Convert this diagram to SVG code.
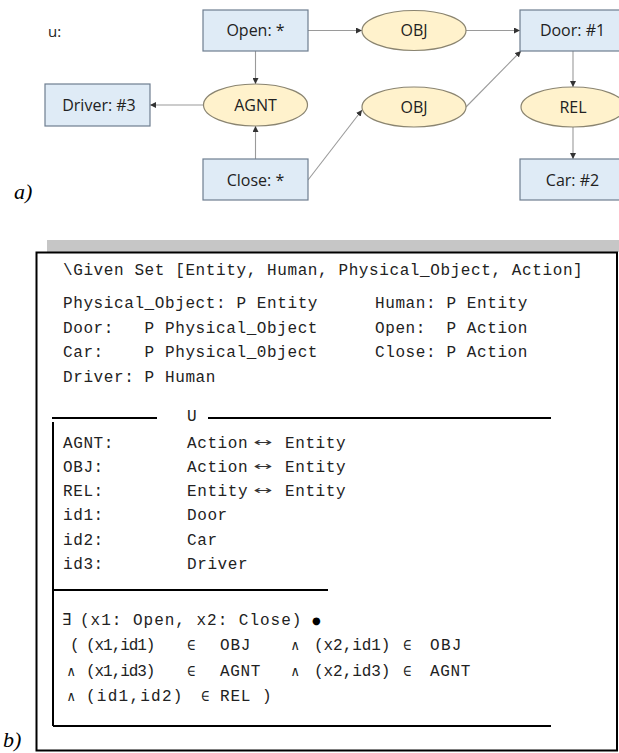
<svg xmlns="http://www.w3.org/2000/svg" width="619" height="753" viewBox="0 0 619 753">
<style>
.box{fill:#dfebf6;stroke:#6e7e90;stroke-width:1.2}
.rel{fill:#fff2cc;stroke:#8a8470;stroke-width:1.2}
.lbl{font-family:"Open Sans","Liberation Sans",sans-serif;font-size:16px;fill:#222;text-anchor:middle}
.conn{stroke:#9a9a9a;stroke-width:1.1;fill:none;marker-end:url(#ah)}
.mono{font-family:"Liberation Mono","DejaVu Sans Mono",monospace;font-size:16px;letter-spacing:0.6px;fill:#222;white-space:pre}
.sym{font-family:"DejaVu Sans Mono","Liberation Mono",monospace;font-size:14px;fill:#222}
.arr{font-family:"DejaVu Sans",sans-serif;font-size:12px;fill:#333}
.rule{stroke:#000;stroke-width:2;fill:none}
.cap{font-family:"Liberation Serif",serif;font-style:italic;font-size:22px;fill:#000}
</style>
<defs>
<marker id="ah" markerUnits="userSpaceOnUse" markerWidth="7" markerHeight="6" refX="6" refY="3" orient="auto">
<path d="M0,0 L6,3 L0,6 Z" fill="#333"/>
</marker>
</defs>

<text x="48" y="37" class="lbl" style="text-anchor:start;font-size:15px">u:</text>

<g id="connectors">
<path class="conn" d="M308,30.5 L362,30.5"/>
<path class="conn" d="M466,30.5 L520,30.5"/>
<path class="conn" d="M255.5,51 L255.5,84"/>
<path class="conn" d="M255.5,159 L255.5,126"/>
<path class="conn" d="M203.5,105 L150,105"/>
<path class="conn" d="M308,180 L362,110"/>
<path class="conn" d="M466,107 L521,51"/>
<path class="conn" d="M573,51 L573,87"/>
<path class="conn" d="M573,127 L573,159"/>
</g>

<g id="open"><rect class="box" x="203" y="10" width="105" height="41"/><text class="lbl" x="255.5" y="36">Open: *</text></g>
<g id="obj1"><ellipse class="rel" cx="414" cy="30.5" rx="52" ry="20"/><text class="lbl" x="414" y="36">OBJ</text></g>
<g id="door"><rect class="box" x="520" y="10" width="105" height="41"/><text class="lbl" x="572.5" y="36">Door: #1</text></g>
<g id="driver"><rect class="box" x="45" y="84" width="105" height="42"/><text class="lbl" x="99" y="111">Driver: #3</text></g>
<g id="agnt"><ellipse class="rel" cx="255.5" cy="105" rx="52" ry="21"/><text class="lbl" x="255.5" y="111">AGNT</text></g>
<g id="obj2"><ellipse class="rel" cx="414" cy="107" rx="52" ry="20"/><text class="lbl" x="414" y="113">OBJ</text></g>
<g id="rel"><ellipse class="rel" cx="573" cy="107" rx="52" ry="20"/><text class="lbl" x="573" y="113">REL</text></g>
<g id="close"><rect class="box" x="203" y="159" width="105" height="41"/><text class="lbl" x="255.5" y="186">Close: *</text></g>
<g id="car"><rect class="box" x="520" y="159" width="105" height="41"/><text class="lbl" x="572.5" y="186">Car: #2</text></g>

<text class="cap" x="14" y="199">a)</text>

<g id="schema">
<rect x="47" y="240" width="580" height="12" fill="#c6c6c6"/>
<rect x="36.5" y="252.5" width="580.5" height="498" fill="#fff" stroke="#000" stroke-width="2"/>
<text class="mono" x="63" y="275">\Given Set [Entity, Human, Physical_Object, Action]</text>
<text class="mono" x="63" y="308">Physical_Object: P Entity</text>
<text class="mono" x="63" y="333">Door:   P Physical_Object</text>
<text class="mono" x="63" y="357">Car:    P Physical_0bject</text>
<text class="mono" x="63" y="382">Driver: P Human</text>
<text class="mono" x="375" y="308">Human: P Entity</text>
<text class="mono" x="375" y="333">Open:  P Action</text>
<text class="mono" x="375" y="357">Close: P Action</text>

<path class="rule" d="M52,418 H157 M208,418 H551 M53,422 V726 M53,590 H328 M53,726 H551"/>
<text class="mono" x="187" y="421">U</text>

<text class="mono" x="63" y="448">AGNT:</text>
<text class="mono" x="187" y="448">Action</text><text class="arr" x="253" y="446" textLength="19" lengthAdjust="spacingAndGlyphs">↔</text><text class="mono" x="285" y="448">Entity</text>
<text class="mono" x="63" y="472">OBJ:</text>
<text class="mono" x="187" y="472">Action</text><text class="arr" x="253" y="470" textLength="19" lengthAdjust="spacingAndGlyphs">↔</text><text class="mono" x="285" y="472">Entity</text>
<text class="mono" x="63" y="496">REL:</text>
<text class="mono" x="187" y="496">Entity</text><text class="arr" x="253" y="494" textLength="19" lengthAdjust="spacingAndGlyphs">↔</text><text class="mono" x="285" y="496">Entity</text>
<text class="mono" x="63" y="520">id1:</text><text class="mono" x="187" y="520">Door</text>
<text class="mono" x="63" y="545">id2:</text><text class="mono" x="187" y="545">Car</text>
<text class="mono" x="63" y="569">id3:</text><text class="mono" x="187" y="569">Driver</text>

<text class="sym" x="62" y="625" style="font-size:16px">∃</text>
<text class="mono" x="80" y="625" textLength="222" lengthAdjust="spacing">(x1: Open, x2: Close)</text>
<text class="arr" x="312" y="624" style="font-size:10px;fill:#000">●</text>

<text class="mono" x="70" y="650">(</text>
<text class="mono" x="86" y="650" textLength="70" lengthAdjust="spacing">(x1,id1)</text>
<text class="sym" x="187" y="650">∈</text>
<text class="mono" x="220" y="650" textLength="31" lengthAdjust="spacing">OBJ</text>
<text class="sym" x="291" y="650">∧</text>
<text class="mono" x="314" y="650" textLength="77" lengthAdjust="spacing">(x2,id1)</text>
<text class="sym" x="403" y="650">∈</text>
<text class="mono" x="430" y="650" textLength="32" lengthAdjust="spacing">OBJ</text>

<text class="sym" x="67" y="676">∧</text>
<text class="mono" x="86" y="676" textLength="70" lengthAdjust="spacing">(x1,id3)</text>
<text class="sym" x="187" y="676">∈</text>
<text class="mono" x="220" y="676" textLength="41" lengthAdjust="spacing">AGNT</text>
<text class="sym" x="291" y="676">∧</text>
<text class="mono" x="314" y="676" textLength="77" lengthAdjust="spacing">(x2,id3)</text>
<text class="sym" x="403" y="676">∈</text>
<text class="mono" x="430" y="676" textLength="41" lengthAdjust="spacing">AGNT</text>

<text class="sym" x="67" y="701">∧</text>
<text class="mono" x="86" y="701" textLength="97" lengthAdjust="spacing">(id1,id2)</text>
<text class="sym" x="201" y="701">∈</text>
<text class="mono" x="220" y="701" textLength="31" lengthAdjust="spacing">REL</text>
<text class="mono" x="262" y="701">)</text>
</g>

<text class="cap" x="3" y="747">b)</text>
</svg>
